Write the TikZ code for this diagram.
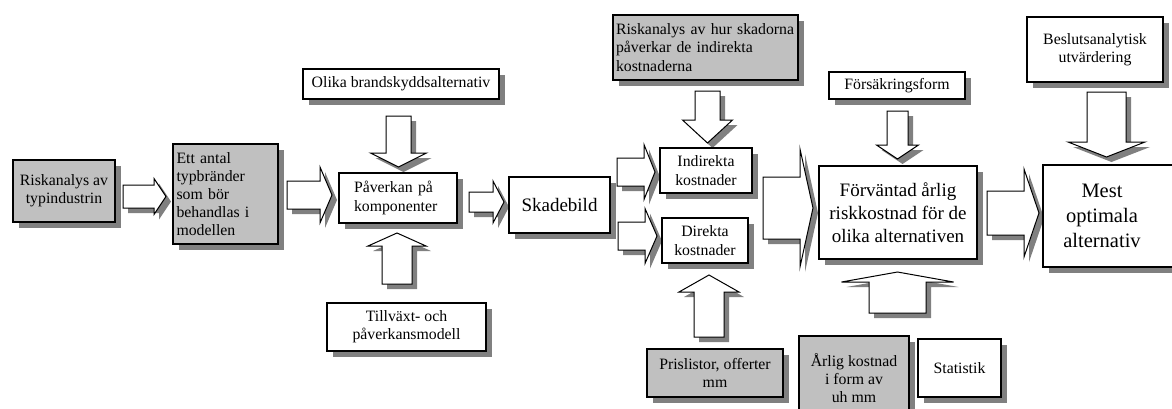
\documentclass[tikz,border=0pt]{standalone}
\usepackage{fontspec}
\setmainfont{Liberation Serif}
\usetikzlibrary{shadows}
\definecolor{boxgray}{HTML}{C0C0C0}
\definecolor{shadowc}{HTML}{808080}
\newcommand\sm{\fontsize{15.8}{18.2}\selectfont}
\newcommand\bg{\fontsize{19}{23}\selectfont}
\newcommand\hg{\fontsize{20.5}{25}\selectfont}
% horizontal block arrow: x0, head base x, tip x, y centre, body half, head half
\newcommand\HArrow[6]{%
  \path[fill=shadowc, shift={(5,5)}] (#1,#4-#5)--(#2,#4-#5)--(#2,#4-#6)--(#3,#4)--(#2,#4+#6)--(#2,#4+#5)--(#1,#4+#5)--cycle;
  \path[blockarrow] (#1,#4-#5)--(#2,#4-#5)--(#2,#4-#6)--(#3,#4)--(#2,#4+#6)--(#2,#4+#5)--(#1,#4+#5)--cycle;}
% vertical block arrow: x centre, y0, head base y, tip y, body half, head half
\newcommand\VArrow[6]{%
  \path[fill=shadowc, shift={(5,5)}] (#1-#5,#2)--(#1-#5,#3)--(#1-#6,#3)--(#1,#4)--(#1+#6,#3)--(#1+#5,#3)--(#1+#5,#2)--cycle;
  \path[blockarrow] (#1-#5,#2)--(#1-#5,#3)--(#1-#6,#3)--(#1,#4)--(#1+#6,#3)--(#1+#5,#3)--(#1+#5,#2)--cycle;}
\tikzset{
  blockarrow/.style={draw=black, fill=white, line width=1pt, line join=miter},
  box/.style={draw=black, fill=white, line width=1.1pt, inner sep=0pt, align=center, font=\sm,
    drop shadow={shadow xshift=6pt, shadow yshift=-6pt, fill=shadowc, opacity=1}},
  graybox/.style={box, fill=boxgray},
}
\begin{document}
\begin{tikzpicture}[x=1pt, y=-1pt]
\useasboundingbox (0,0) rectangle (1172,408);
% arrows
\HArrow{123}{154}{166}{196.5}{11.5}{18}
\HArrow{287}{320}{332}{195}{14}{28}
\HArrow{469}{493}{504}{202}{10}{21}
\HArrow{617}{644}{655}{172}{14}{27.5}
\HArrow{618}{645}{657}{236}{14}{27.5}
\HArrow{763}{800}{813}{208}{31}{59}
\HArrow{987}{1024}{1039}{213}{22}{44}
\VArrow{398.5}{116}{153}{167}{12.5}{28}
\VArrow{397}{284}{246}{233}{15}{29}
\VArrow{707.5}{91}{120}{143}{12.5}{25}
\VArrow{709}{337}{292}{275}{15}{30}
\VArrow{897.5}{111}{145}{159}{10.5}{21}
\VArrow{897.5}{313}{282}{272}{28.5}{56}
\VArrow{1106.5}{92}{142}{157}{19.5}{38.5}
% boxes
\node[graybox, minimum width=102pt, minimum height=62pt] (risk) at (64,191) {Riskanalys av\\typindustrin};
\node[graybox, minimum width=105pt, minimum height=100pt, text width=98pt, align=left] (typ) at (225.5,194) {Ett antal\\typbränder\\som bör\\behandlas i\\modellen};
\node[box, minimum width=196pt, minimum height=30pt] (olika) at (401,84) {Olika brandskyddsalternativ};
\node[box, minimum width=118pt, minimum height=50pt, text width=88pt, align=left] (pav) at (398,198) {Påverkan på\\komponenter};
\node[box, minimum width=159pt, minimum height=48pt] (till) at (406.5,327) {Tillväxt- och\\påverkansmodell};
\node[box, minimum width=101pt, minimum height=56pt, font=\bg] (skade) at (559.5,205) {Skadebild};
\node[graybox, minimum width=185pt, minimum height=65pt, text width=179pt, align=left] (riskhur) at (705.5,47.5) {Riskanalys av hur skadorna\\påverkar de indirekta\\kostnaderna};
\node[box, minimum width=92pt, minimum height=45pt] (indir) at (706,170.5) {Indirekta\\kostnader};
\node[box, minimum width=86pt, minimum height=45pt] (dir) at (705,240.5) {Direkta\\kostnader};
\node[graybox, minimum width=136pt, minimum height=48pt] (pris) at (715,373) {Prislistor, offerter\\mm};
\node[box, minimum width=158pt, minimum height=93pt, font=\bg] (forv) at (898,212.5) {Förväntad årlig\\riskkostnad för de\\olika alternativen};
\node[box, minimum width=136pt, minimum height=27pt] (fors) at (897,85.5) {Försäkringsform};
\node[graybox, minimum width=110pt, minimum height=84pt] (arlig) at (854,378) {Årlig kostnad\\i form av\\uh mm};
\node[box, minimum width=83pt, minimum height=58pt] (stat) at (959.5,368) {Statistik};
\node[box, minimum width=140pt, minimum height=102pt] (mest) at (1113,216) {};
\node[font=\hg, align=center, inner sep=0pt] (mesttext) at (1102,216) {Mest\\optimala\\alternativ};
\node[box, minimum width=136pt, minimum height=65pt] (beslut) at (1095,49.5) {Beslutsanalytisk\\utvärdering};
\end{tikzpicture}
\end{document}
